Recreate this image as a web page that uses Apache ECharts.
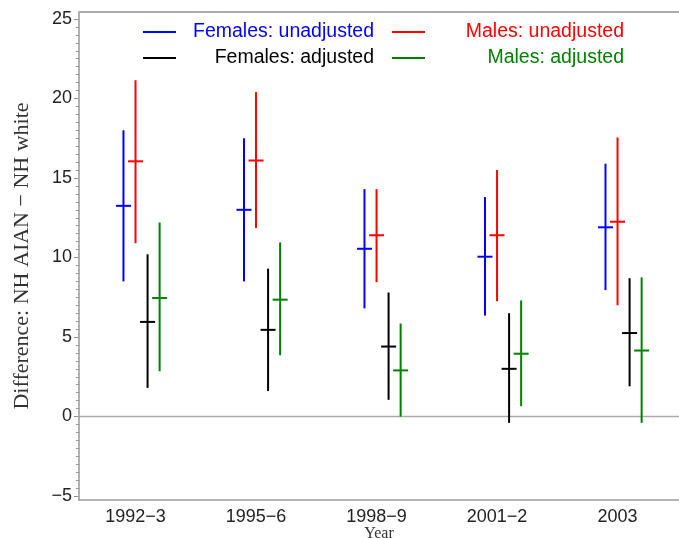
<!DOCTYPE html>
<html>
<head>
<meta charset="utf-8">
<script src="https://cdn.jsdelivr.net/npm/echarts@6/dist/echarts.min.js"></script>
<style>
  html, body { margin: 0; padding: 0; background: #fff; }
  #chart { width: 679px; height: 538px; }
</style>
</head>
<body>
<div id="chart"></div>
<script>
// ---- data ----
const categories = ['1992\u22123', '1995\u22126', '1998\u22129', '2001\u22122', '2003'];
const yTickValues = [-5, 0, 5, 10, 15, 20, 25];

const seriesNames = ['Females: unadjusted', 'Males: unadjusted', 'Females: adjusted', 'Males: adjusted'];

const femUnadjMid  = [13.25, 13.0, 10.55, 10.05, 11.9];
const femUnadjLow  = [8.5, 8.5, 6.8, 6.35, 7.95];
const femUnadjHigh = [18.0, 17.5, 14.3, 13.8, 15.9];

const maleUnadjMid  = [16.05, 16.1, 11.4, 11.4, 12.25];
const maleUnadjLow  = [10.9, 11.85, 8.45, 7.25, 7.0];
const maleUnadjHigh = [21.15, 20.4, 14.3, 15.5, 17.55];

const femAdjMid  = [5.95, 5.45, 4.4, 3.0, 5.25];
const femAdjLow  = [1.8, 1.6, 1.05, -0.4, 1.9];
const femAdjHigh = [10.2, 9.3, 7.8, 6.5, 8.7];

const maleAdjMid  = [7.45, 7.35, 2.9, 3.95, 4.15];
const maleAdjLow  = [2.85, 3.85, 0.0, 0.65, -0.4];
const maleAdjHigh = [12.2, 10.95, 5.85, 7.3, 8.75];

// ---- chart construction ----
const colors = ['#0000ff', '#ff0000', '#000000', '#008000'];
const offsets = [-0.1, 0, 0.1, 0.2];
const mids = [femUnadjMid, maleUnadjMid, femAdjMid, maleAdjMid];
const lows = [femUnadjLow, maleUnadjLow, femAdjLow, maleAdjLow];
const highs = [femUnadjHigh, maleUnadjHigh, femAdjHigh, maleAdjHigh];

const X_MIN = -0.469, X_MAX = 4.51;
const Y_MIN = -5.25, Y_MAX = 25.44;

const minorTicks = [];
for (let v = -5; v <= 25.001; v += 0.5) minorTicks.push(+v.toFixed(1));

function makeSeries(k) {
  const data = categories.map((c, i) => [i + offsets[k], mids[k][i], lows[k][i], highs[k][i]]);
  return {
    name: seriesNames[k],
    type: 'custom',
    xAxisIndex: 0,
    yAxisIndex: 0,
    itemStyle: { color: colors[k] },
    data: data,
    encode: { x: 0, y: [1, 2, 3] },
    renderItem: function (params, api) {
      const x = api.value(0);
      const p = api.coord([x, api.value(1)]);
      const lo = api.coord([x, api.value(2)]);
      const hi = api.coord([x, api.value(3)]);
      const c = colors[k];
      return {
        type: 'group',
        children: [
          { type: 'line', shape: { x1: lo[0], y1: lo[1], x2: hi[0], y2: hi[1] }, style: { stroke: c, lineWidth: 2 } },
          { type: 'line', shape: { x1: p[0] - 7.5, y1: p[1], x2: p[0] + 7.5, y2: p[1] }, style: { stroke: c, lineWidth: 2 } }
        ]
      };
    }
  };
}

const legendText = {
  fontFamily: 'Liberation Sans',
  fontSize: 19
};

const option = {
  animation: false,
  backgroundColor: '#fff',
  grid: { left: 79, right: 0, top: 12, bottom: 38, containLabel: false, outerBoundsMode: 'none' },
  legend: [
    {
      orient: 'vertical', left: 143, top: 22, padding: 0, itemWidth: 33, itemHeight: 2, itemGap: 6,
      icon: 'rect', selectedMode: false,
      formatter: '{t|{name}}',
      textStyle: Object.assign({}, legendText, { rich: { t: { width: 193, align: 'right', fontSize: 19.5, lineHeight: 20, fontFamily: 'Liberation Sans' } } }),
      data: [
        { name: seriesNames[0], textStyle: { color: colors[0] } },
        { name: seriesNames[2], textStyle: { color: colors[2] } }
      ]
    },
    {
      orient: 'vertical', left: 392, top: 22, padding: 0, itemWidth: 33, itemHeight: 2, itemGap: 6,
      icon: 'rect', selectedMode: false,
      formatter: '{t|{name}}',
      textStyle: Object.assign({}, legendText, { rich: { t: { width: 194, align: 'right', fontSize: 19.5, lineHeight: 20, fontFamily: 'Liberation Sans' } } }),
      data: [
        { name: seriesNames[1], textStyle: { color: colors[1] } },
        { name: seriesNames[3], textStyle: { color: colors[3] } }
      ]
    }
  ],
  xAxis: [
    {
      type: 'value', min: X_MIN, max: X_MAX, position: 'bottom',
      name: 'Year', nameLocation: 'middle', nameGap: 26, nameMoveOverlap: false,
      nameTextStyle: { fontFamily: 'Liberation Serif', fontSize: 16, color: '#333' },
      axisLine: { show: true, onZero: false, lineStyle: { color: '#999', width: 1.5 } },
      axisTick: { show: false },
      splitLine: { show: false },
      axisLabel: {
        customValues: categories.map((c, i) => i),
        formatter: function (v) { return categories[Math.round(v)]; },
        fontFamily: 'Liberation Sans', fontSize: 18, color: '#222', margin: 8
      }
    },
    {
      type: 'value', min: X_MIN, max: X_MAX, position: 'top',
      axisLine: { show: true, onZero: false, lineStyle: { color: '#aaa', width: 2 } },
      axisTick: { show: false }, axisLabel: { show: false }, splitLine: { show: false }
    }
  ],
  yAxis: [
    {
      type: 'value', min: Y_MIN, max: Y_MAX, position: 'left',
      name: 'Difference: NH AIAN \u2212 NH white', nameLocation: 'middle', nameGap: 46,
      nameTextStyle: { fontFamily: 'Liberation Serif', fontSize: 22, color: '#333' },
      axisLine: { show: true, onZero: false, lineStyle: { color: '#999', width: 1.5 } },
      axisTick: { show: true, customValues: yTickValues, length: 5, lineStyle: { color: '#888' } },
      splitLine: { show: false },
      axisLabel: {
        customValues: yTickValues,
        formatter: function (v) { return v < 0 ? '\u2212' + Math.abs(v) : String(v); },
        fontFamily: 'Liberation Sans', fontSize: 18, color: '#222', margin: 7
      }
    },
    {
      type: 'value', min: Y_MIN, max: Y_MAX, position: 'left', offset: 0,
      axisLine: { show: false, onZero: false },
      axisTick: { show: true, customValues: minorTicks, length: 3, lineStyle: { color: '#999' } },
      axisLabel: { show: false }, splitLine: { show: false }
    }
  ],
  series: [
    {
      name: 'zero', type: 'line', xAxisIndex: 0, yAxisIndex: 0, silent: true,
      symbol: 'none', data: [[X_MIN, 0], [X_MAX, 0]],
      lineStyle: { color: '#aaa', width: 1.5 }, z: 1
    }
  ].concat([0, 1, 2, 3].map(makeSeries))
};

const chart = echarts.init(document.getElementById('chart'), null, { renderer: 'canvas' });
chart.setOption(option);
</script>
</body>
</html>
